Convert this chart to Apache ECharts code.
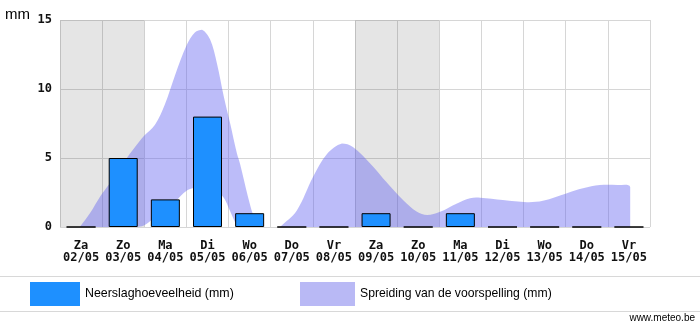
<!DOCTYPE html>
<html>
<head>
<meta charset="utf-8">
<script src="https://cdn.jsdelivr.net/npm/echarts@6/dist/echarts.min.js"></script>
<style>
  html, body { margin: 0; padding: 0; background: #fff; }
  #chart { width: 700px; height: 327px; }
</style>
</head>
<body>
<div id="chart"></div>
<script>
// Days of the forecast (weekday + date)
const weekdays = ['Za', 'Zo', 'Ma', 'Di', 'Wo', 'Do', 'Vr', 'Za', 'Zo', 'Ma', 'Di', 'Wo', 'Do', 'Vr'];
const dates = ['02/05', '03/05', '04/05', '05/05', '06/05', '07/05', '08/05', '09/05', '10/05', '11/05', '12/05', '13/05', '14/05', '15/05'];

// Daily precipitation (mm)
const precipitation = [0, 5, 2, 8, 1, 0, 0, 1, 0, 1, 0, 0, 0, 0];

// Forecast spread: position in days from the start, lower and upper bound (mm)
const spreadX    = [0.47, 0.71, 0.95, 1.19, 1.54, 1.78, 1.99, 2.25, 2.49, 2.73, 3.01, 3.20, 3.37, 3.56, 3.72, 3.89, 4.03, 4.20, 4.27, 4.46, 4.58, 4.70,
                    5.22, 5.62, 6.00, 6.34, 6.69, 6.95, 7.36, 7.76, 8.14, 8.47, 8.71, 9.02, 9.42, 9.73, 9.97, 10.51, 11.08, 11.46, 12.03, 12.41, 12.81, 13.22, 13.53];
const spreadLow  = [0, 0, 0, 0, 0, 0, 0.1, 0.7, 1.25, 1.85, 2.65, 2.85, 2.95, 2.85, 2.6, 2.1, 1.2, 0.1, 0, 0, 0, 0,
                    0, 0, 0, 0, 0, 0, 0, 0, 0, 0, 0, 0, 0, 0, 0, 0, 0, 0, 0, 0, 0, 0, 0];
const spreadHigh = [0, 1.0, 2.2, 3.2, 4.8, 5.8, 6.6, 7.4, 8.9, 11.0, 13.2, 14.1, 14.3, 13.6, 11.9, 9.4, 7.6, 5.3, 4.6, 2.2, 0.9, 0,
                    0, 1.2, 3.6, 5.3, 6.05, 5.8, 4.6, 3.2, 1.95, 1.1, 0.87, 1.1, 1.7, 2.08, 2.12, 1.95, 1.8, 1.9, 2.45, 2.8, 3.04, 3.04, 2.9];

// Weekend days shaded in the plot (day index ranges)
const weekendRanges = [[0, 2], [7, 9]];

// Y axis ticks
const yTicks = { min: 0, max: 15, interval: 5 };

const categories = weekdays.map((d, i) => d + '\n' + dates[i]);
const spreadData = spreadX.map((x, i) => [x, spreadLow[i], spreadHigh[i]]);

// Split the spread into separate bands wherever it drops to nothing
function spreadSegments() {
  const segs = [];
  let cur = [];
  for (let i = 0; i < spreadData.length; i++) {
    const empty = spreadData[i][2] === 0;
    const prevEmpty = i > 0 && spreadData[i - 1][2] === 0;
    if (empty && prevEmpty && cur.length) {
      if (cur.length > 2) segs.push(cur);
      cur = [];
    }
    cur.push(spreadData[i]);
  }
  if (cur.length > 2) segs.push(cur);
  return segs;
}

const gridColor = '#d6d6d6';
const monoLabel = { fontFamily: 'DejaVu Sans Mono', fontWeight: 'bold', fontSize: 12, color: '#111' };
const barName = 'Neerslaghoeveelheid (mm)';
const spreadName = 'Spreiding van de voorspelling (mm)';
const spreadFill = 'rgba(96,96,240,0.42)';

const chart = echarts.init(document.getElementById('chart'), null, { renderer: 'canvas' });
chart.setOption({
  animation: false,
  backgroundColor: '#fff',
  title: {
    text: 'mm', left: 5, top: 7, padding: 0,
    textStyle: { fontFamily: 'Liberation Sans', fontWeight: 'normal', fontSize: 15, color: '#000' }
  },
  grid: { left: 60, right: 50, top: 20, bottom: 100, containLabel: false },
  legend: [
    {
      left: 30, top: 282, padding: 0, icon: 'rect', itemWidth: 50, itemHeight: 24, itemGap: 0,
      selectedMode: false,
      textStyle: { fontFamily: 'Liberation Sans', fontSize: 12.4, color: '#000' },
      data: [{ name: barName, itemStyle: { color: '#1e90ff', borderWidth: 0 } }]
    },
    {
      left: 300, top: 282, padding: 0, icon: 'rect', itemWidth: 55, itemHeight: 24, itemGap: 0,
      selectedMode: false,
      textStyle: { fontFamily: 'Liberation Sans', fontSize: 12.2, color: '#000' },
      data: [{ name: spreadName, itemStyle: { color: '#b9b9f5', borderWidth: 0, opacity: 1 } }]
    }
  ],
  xAxis: [
    {
      type: 'category', data: categories, boundaryGap: true,
      axisLine: { show: false }, axisTick: { show: false },
      axisLabel: Object.assign({ interval: 0, margin: 13, lineHeight: 12 }, monoLabel),
      splitLine: { show: true, interval: 0, lineStyle: { color: gridColor, width: 1 } }
    },
    {
      type: 'value', min: 0, max: weekdays.length, show: false
    }
  ],
  yAxis: {
    type: 'value', min: yTicks.min, max: yTicks.max, interval: yTicks.interval,
    axisLine: { show: false }, axisTick: { show: false },
    axisLabel: Object.assign({ margin: 8 }, monoLabel),
    splitLine: { lineStyle: { color: gridColor, width: 1 } }
  },
  series: [
    {
      // carrier for the weekend shading
      name: 'weekend', type: 'line', xAxisIndex: 1, yAxisIndex: 0,
      data: [[0, 0], [weekdays.length, 0]], symbol: 'none', silent: true,
      lineStyle: { opacity: 0 },
      markArea: {
        silent: true,
        itemStyle: { color: 'rgba(0,0,0,0.1)' },
        data: weekendRanges.map(r => [{ xAxis: r[0] }, { xAxis: r[1] }])
      }
    },
    {
      name: spreadName, type: 'custom', xAxisIndex: 1, yAxisIndex: 0,
      data: spreadData, silent: true,
      itemStyle: { color: '#b9b9f5' },
      encode: { x: 0, y: [1, 2] },
      renderItem: function (params, api) {
        if (params.dataIndex !== 0) return null;
        const children = spreadSegments().map(seg => {
          const top = seg.map(d => api.coord([d[0], d[2]]));
          const bottom = seg.slice().reverse().map(d => api.coord([d[0], d[1]]));
          return {
            type: 'polygon',
            // keep the smoothed outline inside the band's own bounding box
            shape: { points: top.concat(bottom), smooth: 0.35, smoothConstraint: [[Infinity, Infinity], [-Infinity, -Infinity]] },
            style: { fill: spreadFill, stroke: null }
          };
        });
        return { type: 'group', children: children };
      }
    },
    {
      name: barName, type: 'bar', xAxisIndex: 0, yAxisIndex: 0,
      data: precipitation, barWidth: 29, z: 5,
      itemStyle: { color: '#1e90ff', borderColor: '#000', borderWidth: 1 }
    }
  ],
  graphic: [
    { type: 'line', shape: { x1: 0, y1: 276.5, x2: 700, y2: 276.5 }, style: { stroke: '#d8d8d8', lineWidth: 1 }, silent: true },
    { type: 'line', shape: { x1: 0, y1: 311.5, x2: 700, y2: 311.5 }, style: { stroke: '#d8d8d8', lineWidth: 1 }, silent: true },
    {
      type: 'text', right: 5, top: 313,
      style: { text: 'www.meteo.be', font: '10px "Liberation Sans"', fill: '#000' }, silent: true
    }
  ]
});
</script>
</body>
</html>
